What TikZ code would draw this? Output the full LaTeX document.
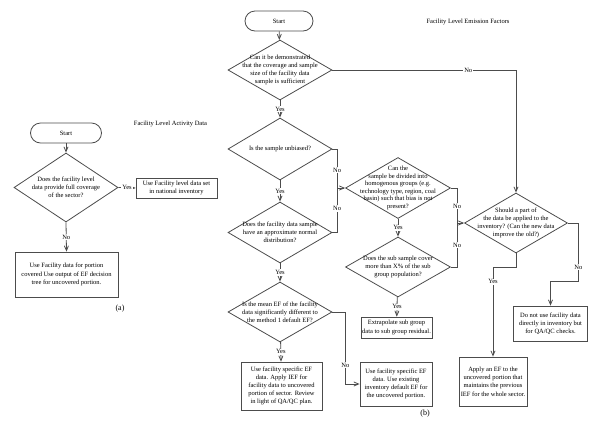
\documentclass[tikz,border=0pt]{standalone}
\usepackage{fontspec}
\setmainfont{Liberation Serif}
\usetikzlibrary{arrows, shapes.geometric}

\begin{document}
\begin{tikzpicture}[
            x=1pt, y=-1pt,
            every node/.style={font=\fontsize{6.5}{8.2}\selectfont},
            flow/.style={draw=black!70, line width=0.8pt},
            terminal/.style={flow, rectangle, rounded corners=10pt, minimum height=20pt, inner sep=0pt},
            decision/.style={flow, diamond, inner sep=0pt, minimum width=104pt, minimum height=61pt},
            qtext/.style={align=center, inner sep=0pt},
            block/.style={flow, rectangle, align=center, inner sep=1pt},
            answer/.style={fill=white, inner sep=1pt},
            caption/.style={inner sep=0pt, font=\fontsize{8}{10}\selectfont},
            >=angle 45]

        \useasboundingbox (0,0) rectangle (600,429);

        % (a) activity data
        \node[inner sep=0pt] (titleA) at (170.5,124) {Facility Level Activity Data};
        \node[terminal, minimum width=71pt] (startA) at (66,133) {Start};
        \node[decision, minimum height=69pt] (qA) at (66,187.5) {};
        \node[qtext] (qAt) at (qA) {Does the facility level\\data provide full coverage\\of the sector?};
        \node[block, minimum width=81pt, minimum height=20pt] (fullA) at (176.5,188) {Use Facility level data set\\in national inventory};
        \node[block, minimum width=103pt, minimum height=45pt] (partA) at (66.5,274.5) {Use Facility data for portion\\covered Use output of EF decision\\tree for uncovered portion.};
        \node[caption] (capA) at (120,309) {(a)};

        \draw[flow,->] (startA) -- (qA);
        \draw[flow,->] (qA.east) -- (fullA.west) node[answer, midway] {Yes};
        \draw[flow,->] (qA.south) -- (partA.north) node[answer, midway] {No};

        % (b) emission factors
        \node[inner sep=0pt] (titleB) at (468,22) {Facility Level Emission Factors};
        \node[terminal, minimum width=68pt] (startB) at (279,21) {Start};

        \node[decision, minimum height=60pt] (q1) at (280,70) {};
        \node[qtext] (q1t) at (q1) {Can it be demonstrated\\that the coverage and sample\\size of the facility data\\sample is sufficient};
        \node[decision, minimum height=62pt] (q2) at (280,149) {};
        \node[qtext] (q2t) at (q2) {Is the sample unbiased?};
        \node[decision] (q3) at (280,232.5) {};
        \node[qtext] (q3t) at (q3) {Does the facility data sample\\have an approximate normal\\distribution?};
        \node[decision, minimum height=60pt] (q4) at (280,312) {};
        \node[qtext] (q4t) at (q4) {Is the mean EF of the facility\\data significantly different to\\the method 1 default EF?};

        \node[decision, minimum width=105pt] (qC) at (398,188) {};
        \node[qtext, font=\fontsize{6.5}{7.6}\selectfont] (qCt) at (qC) {Can the\\sample be divided into\\homogenous groups (e.g.\\technology type, region, coal\\basin) such that bias is not\\present?};
        \node[decision, minimum width=105pt, minimum height=60pt] (qSub) at (398,267) {};
        \node[qtext] (qSubt) at (qSub) {Does the sub sample cover\\more than X\% of the sub\\group population?};
        \node[decision, minimum width=103pt, minimum height=60pt] (qS) at (516,223) {};
        \node[qtext] (qSt) at (qS) {Should a part of\\the data be applied to the\\inventory? (Can the new data\\improve the old?)};

        \node[block, minimum width=81pt, minimum height=48pt] (ef4) at (281.5,386) {Use facility specific EF\\data. Apply IEF for\\facility data to uncovered\\portion of sector. Review\\in light of QA/QC plan.};
        \node[block, minimum width=72pt, minimum height=44pt] (def4) at (396,384) {Use facility specific EF\\data. Use existing\\inventory default EF for\\the uncovered portion.};
        \node[block, minimum width=71pt, minimum height=21pt] (extra) at (396.5,327.5) {Extrapolate sub group\\data to sub group residual.};
        \node[block, minimum width=68pt, minimum height=49pt] (apply) at (493,381.5) {Apply an EF to the\\uncovered portion that\\maintains the previous\\IEF for the whole sector.};
        \node[block, minimum width=74pt, minimum height=35pt] (dont) at (550.5,323.5) {Do not use facility data\\directly in inventory but\\for QA/QC checks.};
        \node[caption] (capB) at (425,414) {(b)};

        \path (qC.west) ++(-8,0) coordinate (jnA);
        \path (qS.west) ++(-7,0) coordinate (jnB);

        \draw[flow,->] (startB) -- (q1);
        \draw[flow,->] (q1) -- (q2) node[answer, midway] {Yes};
        \draw[flow,->] (q1.east) -| (qS.north) node[answer, pos=0.37] {No};
        \draw[flow,->] (q2) -- (q3) node[answer, midway] {Yes};
        \draw[flow] (q2.east) -| (jnA) node[answer, pos=0.77] {No};
        \draw[flow] (q3.east) -| (jnA) node[answer, pos=0.77] {No};
        \draw[flow,->] (jnA) -- (qC.west);
        \draw[flow,->] (q3) -- (q4) node[answer, midway] {Yes};
        \draw[flow,->] (q4) -- (ef4) node[answer, midway] {Yes};
        \draw[flow,->] (q4.east) -- ++(13,0) |- (def4.west) node[answer, pos=0.37] {No};

        \draw[flow,->] (qC) -- (qSub) node[answer, midway] {Yes};
        \draw[flow,->] (qSub) -- (extra) node[answer, midway] {Yes};
        \draw[flow] (qC.east) -| (jnB) node[answer, pos=0.76] {No};
        \draw[flow] (qSub.east) -| (jnB) node[answer, pos=0.75] {No};
        \draw[flow,->] (jnB) -- (qS.west);

        \draw[flow,->] (qS.south) -- ++(0,14) -| (apply.north) node[answer, pos=0.58] {Yes};
        \draw[flow,->] (qS.east) -| ++(10.5,58) node[answer, pos=0.88] {No} -| (dont.north);
    \end{tikzpicture}
\end{document}
